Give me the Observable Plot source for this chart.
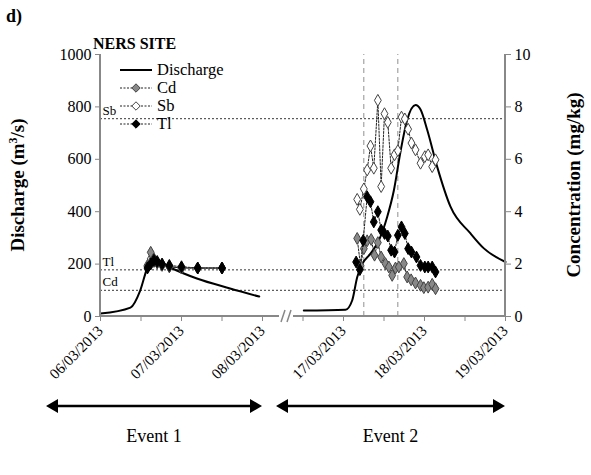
<!DOCTYPE html><html><head><meta charset="utf-8">
<script src="https://cdn.jsdelivr.net/npm/d3@7"></script>
<script src="https://cdn.jsdelivr.net/npm/@observablehq/plot@0.6"></script>
<style>body{margin:0;background:#fff}</style></head><body><div id="c"></div><script>
// Days of March 2013 (decimal)
const q1Days=[6.0,6.37,6.49,6.58,6.65,6.86,7.19,7.60,7.96];
const q1=[11,34,99,187,221,187,145,107,76];
const q2Days=[16.51,17.025,17.107,17.169,17.23,17.333,17.436,17.539,17.621,17.704,17.786,17.889,17.951,18.033,18.156,18.321,18.568,18.733,19.0];
const q2=[23,26,61,150,200,240,290,380,480,630,750,807,790,713,572,419,317,260,208];
const c1Days=[6.58,6.62,6.66,6.70,6.76,6.85,7.0,7.2,7.5];
const cd1=[1.9,2.45,2.2,2.05,1.95,1.9,1.85,1.85,1.85];
const sb1=[1.95,2.2,2.1,2.05,2.0,1.9,1.85,1.85,1.85];
const tl1=[1.85,2.0,2.15,2.1,2.0,1.95,1.9,1.85,1.85];
const sb2Days=[17.169,17.202,17.251,17.292,17.333,17.374,17.424,17.465,17.506,17.547,17.588,17.630,17.671,17.716,17.757,17.798,17.839,17.889,17.951,18.004,18.045,18.095,18.136];
const sb2=[4.47,4.09,4.87,5.59,6.51,5.66,8.25,4.96,7.74,7.41,5.66,6.17,6.33,7.61,7.54,7.15,6.62,6.36,5.85,6.10,6.17,5.72,5.98];
const tl2Days=[17.156,17.202,17.243,17.292,17.333,17.374,17.424,17.465,17.506,17.547,17.588,17.630,17.671,17.716,17.757,17.798,17.839,17.901,17.951,18.004,18.045,18.095,18.136];
const tl2=[2.08,1.79,2.9,4.57,4.38,3.61,4.0,3.3,3.17,3.07,2.53,2.46,3.1,3.42,3.17,2.59,2.46,2.27,1.95,1.89,1.89,1.89,1.7];
const cd2Days=[17.169,17.210,17.251,17.292,17.342,17.383,17.424,17.465,17.518,17.560,17.601,17.642,17.683,17.745,17.786,17.835,17.889,17.951,17.992,18.045,18.095,18.136];
const cd2=[2.98,1.95,2.59,2.89,2.94,2.34,2.82,2.27,2.02,1.89,1.57,1.85,1.89,2.02,1.51,1.40,1.28,1.19,1.10,1.12,1.23,1.06];
const guides={Sb:7.55,Tl:1.78,Cd:1.0};
const vlines=[17.25,17.67];
const tickLabels=["06/03/2013","07/03/2013","08/03/2013","17/03/2013","18/03/2013","19/03/2013"];
const tickPos=[0,1,2,3,4,5];
const U=d=>d<12?d-6:d-14;
const mk=(days,vals,ev,s)=>days.map((d,i)=>({u:U(d),v:vals[i]*s,ev}));
const Q=[...mk(q1Days,q1,1,1),...mk(q2Days,q2,2,1)];
const CD=[...mk(c1Days,cd1,1,100),...mk(cd2Days,cd2,2,100)];
const SB=[...mk(c1Days,sb1,1,100),...mk(sb2Days,sb2,2,100)];
const TL=[...mk(c1Days,tl1,1,100),...mk(tl2Days,tl2,2,100)];
const ser=(data,fill)=>[Plot.line(data,{x:"u",y:"v",z:"ev",stroke:"#222",strokeWidth:1,strokeDasharray:"2,1.5"}),
 Plot.dot(data,{x:"u",y:"v",symbol:"diamond",r:3.6,fill,stroke:fill==="#000"?"#000":"#444",strokeWidth:1})];
const p=Plot.plot({width:591,height:475,marginLeft:100,marginRight:86,marginTop:54,marginBottom:159,
 style:{fontSize:"15px",color:"#000",fontFamily:"'Liberation Serif', serif"},
 x:{domain:[0,5]},y:{domain:[0,1000]},
 marks:[
  Plot.ruleY(Object.values(guides).map(v=>v*100),{stroke:"#000",strokeWidth:0.8,strokeDasharray:"2,2"}),
  Plot.text(Object.entries(guides),{x:0,y:d=>d[1]*100,text:d=>d[0],dx:2,dy:-8,textAnchor:"start",fontSize:13}),
  Plot.ruleX(vlines.map(U),{stroke:"#aaa",strokeWidth:1.3,strokeDasharray:"5,4",y1:0,y2:1000,clip:false}),
  Plot.axisY({ticks:[0,200,400,600,800,1000],tickFormat:d3.format("d"),tickSize:5,label:null,fontSize:16}),
  Plot.axisY({anchor:"right",ticks:[0,200,400,600,800,1000],tickFormat:d=>d/100,tickSize:5,label:null,fontSize:16}),
  Plot.axisX({ticks:[0,0.5,1,1.5,2,2.5,3,3.5,4,4.5,5],tickFormat:d=>{const i=tickPos.indexOf(d);return i<0?"":tickLabels[i]},tickRotate:-45,tickSize:5,label:null,fontSize:15}),
  Plot.line(Q,{x:"u",y:"v",z:"ev",stroke:"#000",strokeWidth:2,curve:"monotone-x"}),
  ...ser(SB,"#fff"),...ser(CD,"#888"),...ser(TL,"#000")
 ]});
document.getElementById("c").append(p);
const s=d3.select(p);
s.selectAll("[aria-label^='y-axis'] path,[aria-label^='x-axis'] path").attr("stroke","#888");
[[100,100,54,316],[505,505,54,316],[100,505,316,316]].forEach(([a,b,c,d])=>s.append("line").attr("x1",a).attr("x2",b).attr("y1",c).attr("y2",d).attr("stroke","#888").attr("stroke-width",2));
s.append("rect").attr("x",279).attr("y",308).attr("width",14).attr("height",16).attr("fill","#fff");
[281,287].forEach(x=>s.append("line").attr("x1",x).attr("x2",x+4).attr("y1",322).attr("y2",310).attr("stroke","#888").attr("stroke-width",1.5));
const T=(x,y,t,fs,bold,anchor)=>s.append("text").attr("x",x).attr("y",y).attr("font-size",fs).attr("font-weight",bold?"bold":"normal").attr("text-anchor",anchor||"start").text(t);
T(6,22,"d)",18,true);
T(93,49,"NERS SITE",16,true);
s.append("text").attr("transform","translate(24,185) rotate(-90)").attr("text-anchor","middle").attr("font-weight","bold").attr("font-size",19).html("Discharge (m<tspan dy='-7' font-size='12'>3</tspan><tspan dy='7'>/s)</tspan>");
s.append("text").attr("transform","translate(580,185) rotate(-90)").attr("text-anchor","middle").attr("font-weight","bold").attr("font-size",19).text("Concentration (mg/kg)");
const leg=[["Discharge","line"],["Cd","#888"],["Sb","#fff"],["Tl","#000"]];
leg.forEach(([t,f],i)=>{const y=70+i*18;
 if(f==="line")s.append("line").attr("x1",120).attr("x2",152).attr("y1",y).attr("y2",y).attr("stroke","#000").attr("stroke-width",2);
 else{s.append("line").attr("x1",120).attr("x2",152).attr("y1",y).attr("y2",y).attr("stroke","#222").attr("stroke-dasharray","2,1.5");
  s.append("path").attr("d",d3.symbol(d3.symbolDiamond2,45)()).attr("transform",`translate(136,${y})`).attr("fill",f).attr("stroke",f==="#000"?"#000":"#444");}
 T(157,y+5,t,16.5,false);});
const arrow=(x1,x2,lab)=>{const y=406;
 s.append("line").attr("x1",x1+8).attr("x2",x2-8).attr("y1",y).attr("y2",y).attr("stroke","#000").attr("stroke-width",2.5);
 s.append("path").attr("d",`M${x1},${y}l12,-7v14z M${x2},${y}l-12,-7v14z`).attr("fill","#000");
 T((x1+x2)/2,y+36,lab,18,false,"middle");};
arrow(46,262,"Event 1");arrow(276,505,"Event 2");
s.selectAll("text").attr("font-family","Liberation Serif").style("font-family","'Liberation Serif', serif");
</script></body></html>
